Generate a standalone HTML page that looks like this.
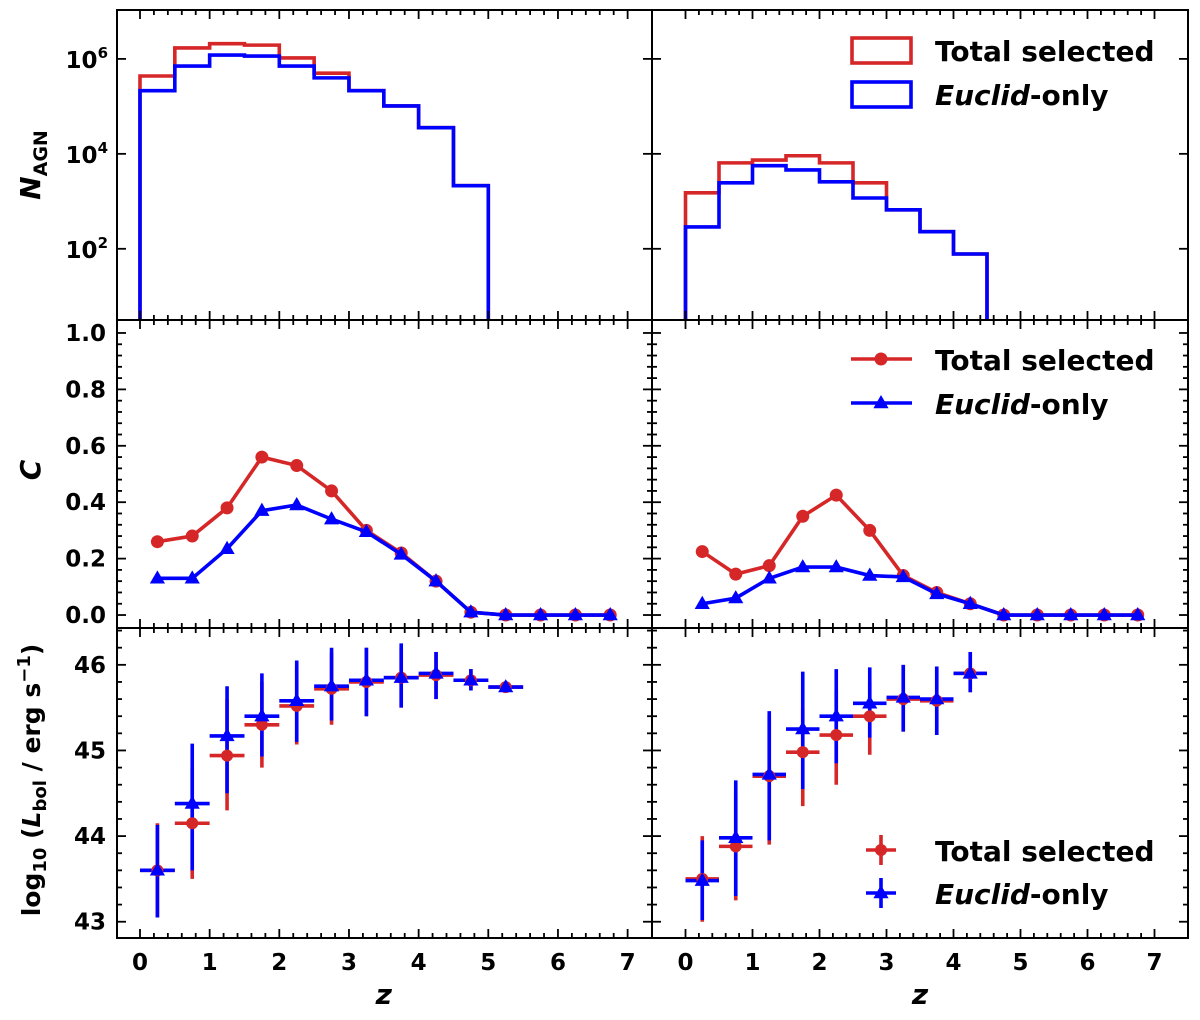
<!DOCTYPE html>
<html><head><meta charset="utf-8"><style>
body{margin:0;background:#fff;}
svg text{font-family:"DejaVu Sans","Liberation Sans",sans-serif;font-weight:bold;}
</style></head><body>
<svg id="fig" width="1200" height="1015" viewBox="0 0 1200 1015" xmlns="http://www.w3.org/2000/svg"></svg>
<script>
// ---------- data ----------
const binEdges = [0,0.5,1,1.5,2,2.5,3,3.5,4,4.5,5];
const histLeftRed  = [5.64,6.23,6.32,6.29,6.02,5.70,5.33,5.01,4.55,3.33];
const histLeftBlue = [5.33,5.85,6.08,6.06,5.85,5.60,5.33,5.01,4.55,3.33];
const histRightRed  = [3.18,3.81,3.87,3.96,3.81,3.39,2.82,2.36,1.89];
const histRightBlue = [2.46,3.39,3.75,3.66,3.41,3.07,2.82,2.36,1.89];
const zMid = [0.25,0.75,1.25,1.75,2.25,2.75,3.25,3.75,4.25,4.75,5.25,5.75,6.25,6.75];
const compLeftRed  = [0.26,0.28,0.38,0.56,0.53,0.44,0.30,0.22,0.12,0.01,0,0,0,0];
const compLeftBlue = [0.13,0.13,0.235,0.37,0.39,0.34,0.295,0.215,0.12,0.01,0,0,0,0];
const compRightRed  = [0.225,0.145,0.175,0.35,0.425,0.30,0.14,0.08,0.04,0,0,0,0,0];
const compRightBlue = [0.04,0.06,0.13,0.17,0.17,0.14,0.135,0.075,0.04,0,0,0,0,0];
const lumLeftRed   = [43.60,44.15,44.94,45.30,45.52,45.72,45.80,45.85,45.88,45.82,45.74];
const lumLeftRedLo = [43.05,43.50,44.30,44.80,45.07,45.30,45.40,45.50,45.60,45.70,45.68];
const lumLeftRedHi = [44.15,44.80,45.60,45.80,45.97,46.14,46.20,46.20,46.15,45.95,45.80];
const lumLeftBlue   = [43.60,44.38,45.17,45.40,45.58,45.75,45.82,45.85,45.90,45.82,45.74];
const lumLeftBlueLo = [43.05,43.60,44.50,44.93,45.10,45.35,45.40,45.50,45.60,45.70,45.68];
const lumLeftBlueHi = [44.13,45.08,45.75,45.90,46.05,46.20,46.20,46.25,46.15,45.95,45.80];
const lumRightRed   = [43.50,43.88,44.70,44.98,45.18,45.40,45.60,45.58,45.90];
const lumRightRedLo = [43.00,43.25,43.90,44.35,44.60,44.95,45.22,45.18,45.68];
const lumRightRedHi = [44.00,44.50,45.40,45.50,45.70,45.80,46.00,45.98,46.15];
const lumRightBlue   = [43.48,43.98,44.72,45.25,45.40,45.55,45.62,45.60,45.90];
const lumRightBlueLo = [43.02,43.30,43.95,44.55,44.85,45.15,45.22,45.18,45.68];
const lumRightBlueHi = [43.95,44.65,45.46,45.92,45.95,45.97,46.00,45.98,46.15];
const xTicks = [0,1,2,3,4,5,6,7];
const logTicks = [2,4,6];
const compTicks = [0.0,0.2,0.4,0.6,0.8,1.0];
const lumTicks = [43,44,45,46];

const RED='#d62728', BLUE='#0000ff';
const svg=document.getElementById('fig');
const NS='http://www.w3.org/2000/svg';
function mk(tag,attrs,parent){const e=document.createElementNS(NS,tag);for(const k in attrs)e.setAttribute(k,attrs[k]);(parent||svg).appendChild(e);return e;}

const cols=[{x0:117,x1:652,lo:-0.33,hi:7.35},{x0:652,x1:1188,lo:-0.5,hi:7.5}];
const rows=[{y0:10,y1:320,lo:0.5,hi:7.03},{y0:320,y1:628,lo:-0.046,hi:1.046},{y0:628,y1:938,lo:42.81,hi:46.43}];
function X(c,v){const p=cols[c];return p.x0+(v-p.lo)/(p.hi-p.lo)*(p.x1-p.x0);}
function Y(r,v){const p=rows[r];return p.y1-(v-p.lo)/(p.hi-p.lo)*(p.y1-p.y0);}

function clip(c,r){const id='clip'+c+r;const cp=mk('clipPath',{id:id});mk('rect',{x:cols[c].x0,y:rows[r].y0,width:cols[c].x1-cols[c].x0,height:rows[r].y1-rows[r].y0},cp);return 'url(#'+id+')';}

function hist(c,vals,color,name){
  const g=mk('g',{'clip-path':clip(c,0)});
  
  
  let d='M'+X(c,binEdges[0])+','+(rows[0].y1+5);
  for(let i=0;i<vals.length;i++){d+=' L'+X(c,binEdges[i])+','+Y(0,vals[i])+' L'+X(c,binEdges[i+1])+','+Y(0,vals[i]);}
  d+=' L'+X(c,binEdges[vals.length])+','+(rows[0].y1+5);
  const p=mk('path',{d:d,fill:'none',stroke:color,'stroke-width':3.6},g);
  
  
}
hist(0,histLeftRed,RED,'hist-left-total');
hist(0,histLeftBlue,BLUE,'hist-left-euclid');
hist(1,histRightRed,RED,'hist-right-total');
hist(1,histRightBlue,BLUE,'hist-right-euclid');

function tri(x,y,s){return (x)+','+(y-s)+' '+(x+s*0.95)+','+(y+s*0.65)+' '+(x-s*0.95)+','+(y+s*0.65);}
function comp(c,vals,color,marker,name){
  const pts=vals.map((v,i)=>X(c,zMid[i])+','+Y(1,v)).join(' ');
  const l=mk('polyline',{points:pts,fill:'none',stroke:color,'stroke-width':3.6});
  
  
  vals.forEach((v,i)=>{
    let m;
    if(marker==='o') m=mk('circle',{cx:X(c,zMid[i]),cy:Y(1,v),r:6.5,fill:color});
    else m=mk('polygon',{points:tri(X(c,zMid[i]),Y(1,v),8),fill:color});
    
    
  });
}
comp(0,compLeftRed,RED,'o','comp-left-total');
comp(0,compLeftBlue,BLUE,'^','comp-left-euclid');
comp(1,compRightRed,RED,'o','comp-right-total');
comp(1,compRightBlue,BLUE,'^','comp-right-euclid');

function errs(c,v,lo,hi,color,name){
  v.forEach((val,i)=>{
    const x=X(c,zMid[i]);
    const a=mk('line',{x1:x,x2:x,y1:Y(2,lo[i]),y2:Y(2,hi[i]),stroke:color,'stroke-width':3.6});
    
    
    const b=mk('line',{x1:X(c,zMid[i]-0.25),x2:X(c,zMid[i]+0.25),y1:Y(2,val),y2:Y(2,val),stroke:color,'stroke-width':3.6});
    
    
  });
}
function marks(c,v,color,marker,name){
  v.forEach((val,i)=>{
    let m;
    if(marker==='o') m=mk('circle',{cx:X(c,zMid[i]),cy:Y(2,val),r:6,fill:color});
    else m=mk('polygon',{points:tri(X(c,zMid[i]),Y(2,val),8),fill:color});
    
    
  });
}
errs(0,lumLeftRed,lumLeftRedLo,lumLeftRedHi,RED,'lum-left-total');
errs(0,lumLeftBlue,lumLeftBlueLo,lumLeftBlueHi,BLUE,'lum-left-euclid');
marks(0,lumLeftRed,RED,'o','lum-left-total');
marks(0,lumLeftBlue,BLUE,'^','lum-left-euclid');
errs(1,lumRightRed,lumRightRedLo,lumRightRedHi,RED,'lum-right-total');
errs(1,lumRightBlue,lumRightBlueLo,lumRightBlueHi,BLUE,'lum-right-euclid');
marks(1,lumRightRed,RED,'o','lum-right-total');
marks(1,lumRightBlue,BLUE,'^','lum-right-euclid');

function tick(x1,y1,x2,y2){const t=mk('line',{x1:x1,y1:y1,x2:x2,y2:y2,stroke:'#000','stroke-width':1.8});}
for(let c=0;c<2;c++)for(let r=0;r<3;r++){
  const p=cols[c],q=rows[r];
  const f=mk('rect',{x:p.x0,y:q.y0,width:p.x1-p.x0,height:q.y1-q.y0,fill:'none',stroke:'#000','stroke-width':2});
  
  
  for(let i=0;i<=35;i++){
    const v=i*0.2;const L=(i%5===0)?9:5;const x=X(c,v);
    tick(x,q.y1,x,q.y1-L);tick(x,q.y0,x,q.y0+L);
  }
  const yt=[];
  if(r===0){logTicks.forEach(v=>yt.push([v,9]));}
  if(r===1){for(let i=0;i<=25;i++){const v=i*0.04;yt.push([v,i%5===0?9:5]);}}
  if(r===2){for(let i=0;i<=20;i++){const v=43+i*0.2;if(v<=q.hi)yt.push([v,i%5===0?9:5]);}}
  yt.forEach(([v,L])=>{const y=Y(r,v);if(y<q.y0||y>q.y1)return;tick(p.x0,y,p.x0+L,y);tick(p.x1,y,p.x1-L,y);});
}
function txt(s,x,y,size,anchor,name,extra){const t=mk('text',Object.assign({x:x,y:y,'font-size':size,'text-anchor':anchor||'middle'},extra||{}));t.innerHTML=s;return t;}
for(let c=0;c<2;c++)xTicks.forEach(v=>txt(String(v),X(c,v),970,23,'middle','x-tick-label'));
logTicks.forEach(v=>txt('10<tspan font-size="15" dy="-10">'+v+'</tspan>',108,Y(0,v)+9,23,'end','y-tick-label-log'));
compTicks.forEach(v=>txt(v.toFixed(1),106,Y(1,v)+8,23,'end','y-tick-label-comp'));
lumTicks.forEach(v=>txt(String(v),106,Y(2,v)+8,23,'end','y-tick-label-lum'));
txt('z',X(0,3.5),1004,28,'middle','x-axis-title-left',{'font-style':'italic'});
txt('z',X(1,3.5),1004,28,'middle','x-axis-title-right',{'font-style':'italic'});
txt('<tspan font-style="italic">N</tspan><tspan font-size="19" dy="7">AGN</tspan>',0,0,28,'middle','y-axis-title-n',{transform:'translate(40,165) rotate(-90)'});
txt('C',0,0,28,'middle','y-axis-title-c',{transform:'translate(40,470) rotate(-90)','font-style':'italic'});
txt('log<tspan font-size="18" dy="6">10</tspan><tspan dy="-6"> (</tspan><tspan font-style="italic">L</tspan><tspan font-size="18" dy="6">bol</tspan><tspan dy="-6"> / erg s</tspan><tspan font-size="18" dy="-10">−1</tspan><tspan dy="10">)</tspan>',0,0,25,'middle','y-axis-title-lum',{transform:'translate(40,780) rotate(-90)'});
function legLabel(y,name,eu){if(eu)txt('<tspan font-style="italic">Euclid</tspan>-only',935,y,28,'start',name);else txt('Total selected',935,y,28,'start',name);}
let r1=mk('rect',{x:852,y:38,width:59,height:25,fill:'none',stroke:RED,'stroke-width':3.6});
let r2=mk('rect',{x:852,y:82,width:59,height:25,fill:'none',stroke:BLUE,'stroke-width':3.6});
legLabel(61,'legend-label-total',false);legLabel(105,'legend-label-euclid',true);
let l1=mk('line',{x1:851,x2:912,y1:359,y2:359,stroke:RED,'stroke-width':3.6});
let c1=mk('circle',{cx:881,cy:359,r:6.5,fill:RED});
let l2=mk('line',{x1:851,x2:912,y1:403,y2:403,stroke:BLUE,'stroke-width':3.6});
let t2=mk('polygon',{points:tri(881,403,8),fill:BLUE});
legLabel(370,'legend-label-total',false);legLabel(414,'legend-label-euclid',true);
let e1=mk('path',{d:'M866,850 L896,850 M881,835 L881,865',stroke:RED,'stroke-width':3.6,fill:'none'});
let e1m=mk('circle',{cx:881,cy:850,r:6,fill:RED});
let e2=mk('path',{d:'M866,893 L896,893 M881,878 L881,908',stroke:BLUE,'stroke-width':3.6,fill:'none'});
let e2m=mk('polygon',{points:tri(881,893,8),fill:BLUE});
legLabel(861,'legend-label-total',false);legLabel(904,'legend-label-euclid',true);
</script>
</body></html>
